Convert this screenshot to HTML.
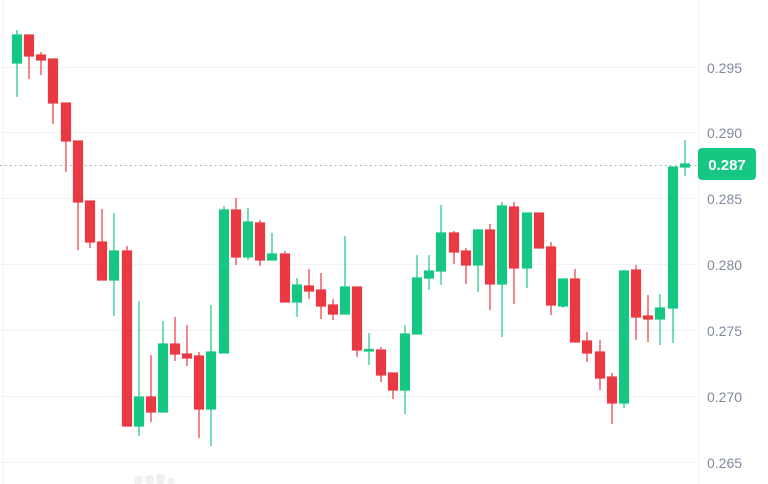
<!DOCTYPE html>
<html><head><meta charset="utf-8"><style>
html,body{margin:0;padding:0;background:#fff;}
svg{display:block;font-family:"Liberation Sans",sans-serif;}
</style></head><body>
<svg width="768" height="484" viewBox="0 0 768 484">
<rect width="768" height="484" fill="#fff"/>
<g stroke="#f1f2f4" stroke-width="1">
<line x1="0" x2="698" y1="67.5" y2="67.5"/><line x1="0" x2="698" y1="132.5" y2="132.5"/>
<line x1="0" x2="698" y1="198.5" y2="198.5"/><line x1="0" x2="698" y1="264.5" y2="264.5"/>
<line x1="0" x2="698" y1="330.5" y2="330.5"/><line x1="0" x2="698" y1="396.5" y2="396.5"/>
<line x1="0" x2="698" y1="462.5" y2="462.5"/>
<line x1="3.5" x2="3.5" y1="0" y2="484"/>
<line x1="698.5" x2="698.5" y1="0" y2="484"/>
</g>
<line x1="0" x2="698" y1="165.5" y2="165.5" stroke="#9aa0aa" stroke-width="1" stroke-dasharray="1.5,3.5"/>
<g fill="#eef0f3"><rect x="134" y="476" width="9" height="8" rx="3"/><rect x="145" y="475" width="9" height="9" rx="3"/><rect x="156" y="474" width="9" height="10" rx="3"/><rect x="167" y="478" width="8" height="6" rx="3"/></g>
<g stroke="#16c784" stroke-width="1.2" fill="#16c784">
<line x1="17" x2="17" y1="30" y2="97"/><rect x="12.5" y="35" width="9" height="28"/>
<line x1="114" x2="114" y1="213" y2="316"/><rect x="109.5" y="251" width="9" height="29"/>
<line x1="139" x2="139" y1="301" y2="436"/><rect x="134.5" y="397" width="9" height="29"/>
<line x1="163" x2="163" y1="321" y2="412"/><rect x="158.5" y="344" width="9" height="68"/>
<line x1="211" x2="211" y1="305" y2="446"/><rect x="206.5" y="352" width="9" height="57"/>
<line x1="224" x2="224" y1="206" y2="352"/><rect x="219.5" y="210" width="9" height="143"/>
<line x1="248" x2="248" y1="208" y2="260"/><rect x="243.5" y="222" width="9" height="35"/>
<line x1="272" x2="272" y1="233" y2="260"/><rect x="267.5" y="254" width="9" height="6"/>
<line x1="297" x2="297" y1="278" y2="317"/><rect x="292.5" y="285" width="9" height="17"/>
<line x1="345" x2="345" y1="236" y2="314"/><rect x="340.5" y="287" width="9" height="27"/>
<line x1="369" x2="369" y1="333" y2="365"/><rect x="364.5" y="349.5" width="9" height="1.5"/>
<line x1="405" x2="405" y1="325" y2="414"/><rect x="400.5" y="334" width="9" height="56"/>
<line x1="417" x2="417" y1="255" y2="334"/><rect x="412.5" y="278" width="9" height="56"/>
<line x1="429" x2="429" y1="255" y2="290"/><rect x="424.5" y="271" width="9" height="7"/>
<line x1="441" x2="441" y1="205" y2="285"/><rect x="436.5" y="233" width="9" height="38"/>
<line x1="478" x2="478" y1="229" y2="292"/><rect x="473.5" y="230" width="9" height="35"/>
<line x1="502" x2="502" y1="202" y2="337"/><rect x="497.5" y="206" width="9" height="78"/>
<line x1="527" x2="527" y1="213" y2="288"/><rect x="522.5" y="213" width="9" height="55"/>
<line x1="563" x2="563" y1="279" y2="308"/><rect x="558.5" y="279" width="9" height="27"/>
<line x1="624" x2="624" y1="270" y2="408"/><rect x="619.5" y="271" width="9" height="132"/>
<line x1="660" x2="660" y1="294" y2="345"/><rect x="655.5" y="308" width="9" height="11"/>
<line x1="673" x2="673" y1="167" y2="343"/><rect x="668.5" y="167" width="9" height="141"/>
<line x1="685" x2="685" y1="140" y2="176"/><rect x="680.5" y="164" width="9" height="3"/>
</g>
<g stroke="#ea3943" stroke-width="1.2" fill="#ea3943">
<line x1="29" x2="29" y1="35" y2="79"/><rect x="24.5" y="35" width="9" height="21"/>
<line x1="41" x2="41" y1="52" y2="75"/><rect x="36.5" y="55" width="9" height="5"/>
<line x1="53" x2="53" y1="59" y2="124"/><rect x="48.5" y="59" width="9" height="44"/>
<line x1="66" x2="66" y1="103" y2="172"/><rect x="61.5" y="103" width="9" height="38"/>
<line x1="78" x2="78" y1="141" y2="250"/><rect x="73.5" y="141" width="9" height="61"/>
<line x1="90" x2="90" y1="201" y2="248"/><rect x="85.5" y="201" width="9" height="41"/>
<line x1="102" x2="102" y1="209" y2="280"/><rect x="97.5" y="242" width="9" height="38"/>
<line x1="127" x2="127" y1="246" y2="426"/><rect x="122.5" y="251" width="9" height="175"/>
<line x1="151" x2="151" y1="355" y2="422"/><rect x="146.5" y="397" width="9" height="15"/>
<line x1="175" x2="175" y1="317" y2="361"/><rect x="170.5" y="344" width="9" height="10"/>
<line x1="187" x2="187" y1="325" y2="366"/><rect x="182.5" y="354" width="9" height="4"/>
<line x1="199" x2="199" y1="352" y2="438"/><rect x="194.5" y="356" width="9" height="53"/>
<line x1="236" x2="236" y1="198" y2="265"/><rect x="231.5" y="210" width="9" height="47"/>
<line x1="260" x2="260" y1="220" y2="266"/><rect x="255.5" y="223" width="9" height="37"/>
<line x1="285" x2="285" y1="251" y2="302"/><rect x="280.5" y="254" width="9" height="48"/>
<line x1="309" x2="309" y1="269" y2="299"/><rect x="304.5" y="286" width="9" height="5"/>
<line x1="321" x2="321" y1="273" y2="319"/><rect x="316.5" y="290" width="9" height="16"/>
<line x1="333" x2="333" y1="299" y2="320"/><rect x="328.5" y="305" width="9" height="9"/>
<line x1="357" x2="357" y1="287" y2="357"/><rect x="352.5" y="287" width="9" height="63"/>
<line x1="381" x2="381" y1="347" y2="382"/><rect x="376.5" y="350" width="9" height="25"/>
<line x1="393" x2="393" y1="373" y2="399"/><rect x="388.5" y="373" width="9" height="17"/>
<line x1="454" x2="454" y1="231" y2="264"/><rect x="449.5" y="233" width="9" height="19"/>
<line x1="466" x2="466" y1="248" y2="284"/><rect x="461.5" y="251" width="9" height="14"/>
<line x1="490" x2="490" y1="224" y2="310"/><rect x="485.5" y="230" width="9" height="54"/>
<line x1="514" x2="514" y1="202" y2="304"/><rect x="509.5" y="207" width="9" height="61"/>
<line x1="539" x2="539" y1="213" y2="248"/><rect x="534.5" y="213" width="9" height="35"/>
<line x1="551" x2="551" y1="242" y2="315"/><rect x="546.5" y="247" width="9" height="58"/>
<line x1="575" x2="575" y1="269" y2="342"/><rect x="570.5" y="279" width="9" height="63"/>
<line x1="587" x2="587" y1="332" y2="362"/><rect x="582.5" y="341" width="9" height="12"/>
<line x1="600" x2="600" y1="340" y2="390"/><rect x="595.5" y="352" width="9" height="26"/>
<line x1="612" x2="612" y1="373" y2="424"/><rect x="607.5" y="377" width="9" height="26"/>
<line x1="636" x2="636" y1="265" y2="340"/><rect x="631.5" y="270" width="9" height="47"/>
<line x1="648" x2="648" y1="295" y2="342"/><rect x="643.5" y="316" width="9" height="3"/>
</g>
<g fill="#808a9d" font-size="14">
<text x="707" y="73">0.295</text>
<text x="707" y="138">0.290</text>
<text x="707" y="204">0.285</text>
<text x="707" y="270">0.280</text>
<text x="707" y="336">0.275</text>
<text x="707" y="402">0.270</text>
<text x="707" y="468">0.265</text>
</g>
<rect x="698" y="148" width="58" height="32" rx="4" fill="#16c784"/>
<text x="727" y="170" fill="#fff" font-size="15" font-weight="bold" text-anchor="middle">0.287</text>
</svg>
</body></html>
